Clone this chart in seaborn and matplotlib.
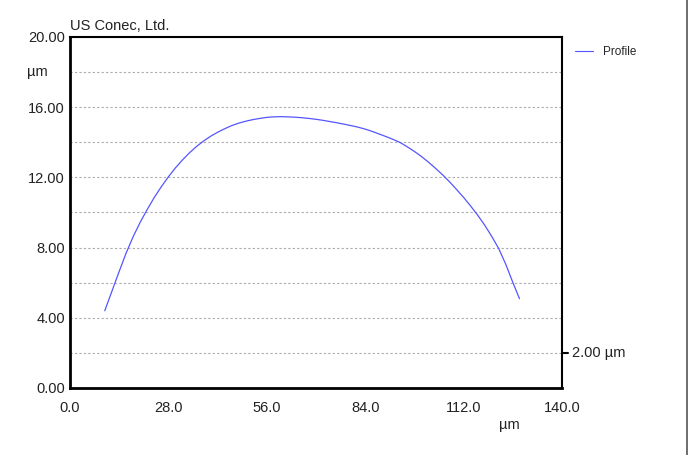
import pandas as pd
import matplotlib.pyplot as plt
import matplotlib.lines as mlines
import matplotlib.transforms as mtransforms
from matplotlib.ticker import MultipleLocator, FixedLocator
import seaborn as sns

# profile (um)
pos_um = [9.9, 12.0, 14.0, 16.0, 18.0, 20.0, 22.0, 24.0, 26.0, 28.0, 30.0, 32.0,
          34.0, 36.0, 38.0, 40.0, 42.0, 44.0, 46.0, 48.0, 50.0, 52.0, 54.0, 56.0,
          58.0, 60.0, 62.0, 64.0, 66.0, 68.0, 70.0, 72.0, 74.0, 76.0, 78.0, 80.0,
          82.0, 84.0, 86.0, 88.0, 90.0, 92.0, 94.0, 96.0, 98.0, 100.0, 102.0, 104.0,
          106.0, 108.0, 110.0, 112.0, 114.0, 116.0, 118.0, 120.0, 122.0, 124.0, 126.0,
          127.9]
height_um = [4.40, 5.55, 6.64, 7.70, 8.63, 9.45, 10.18, 10.86, 11.47, 12.03, 12.54, 12.99,
             13.40, 13.76, 14.07, 14.34, 14.57, 14.77, 14.95, 15.09, 15.20, 15.29, 15.36, 15.42,
             15.45, 15.46, 15.45, 15.43, 15.40, 15.36, 15.31, 15.25, 15.18, 15.11, 15.03, 14.95,
             14.86, 14.75, 14.62, 14.47, 14.32, 14.16, 13.98, 13.74, 13.48, 13.19, 12.87, 12.52,
             12.15, 11.75, 11.31, 10.86, 10.37, 9.85, 9.28, 8.64, 7.94, 7.05, 6.02,
             5.09]
x_ticks = [0.0, 28.0, 56.0, 84.0, 112.0, 140.0]
y_ticks = [0.0, 4.0, 8.0, 12.0, 16.0, 20.0]

df = pd.DataFrame({"x": pos_um, "y": height_um})

sns.set_style("white")
plt.rcParams["font.family"] = ["Liberation Sans", "DejaVu Sans"]

fig = plt.figure(figsize=(6.99, 4.55), dpi=100)
ax = fig.add_axes([0.1001, 0.1473, 0.7039, 0.7714])

sns.lineplot(data=df, x="x", y="y", ax=ax, color="#5555ff", linewidth=0.9,
             label="Profile", sort=False)

ax.set_xlim(0, 140)
ax.set_ylim(0, 20)
ax.xaxis.set_major_locator(FixedLocator(x_ticks))
ax.xaxis.set_minor_locator(MultipleLocator(14))
ax.yaxis.set_major_locator(FixedLocator(y_ticks))
ax.yaxis.set_minor_locator(MultipleLocator(2))
ax.set_xticklabels([f"{v:.1f}" for v in x_ticks])
ax.set_yticklabels([f"{v:.2f}" for v in y_ticks])
ax.tick_params(axis="both", which="major", labelsize=10.5, length=4, width=1.5,
               direction="in", colors="black", labelcolor="#222222")
ax.tick_params(axis="x", which="major", pad=9.5)
ax.tick_params(axis="both", which="minor", length=4, width=1.5, direction="in")
ax.set_xlabel("")
ax.set_ylabel("")

ax.grid(True, which="both", axis="y", linestyle=(0, (2, 2)), color="#aaaaaa", linewidth=0.8)

for side in ["left", "bottom"]:
    ax.spines[side].set_linewidth(2)
    ax.spines[side].set_color("black")
for side in ["right", "top"]:
    ax.spines[side].set_linewidth(1.5)
    ax.spines[side].set_color("black")

# unit labels
ylab_tr = mtransforms.blended_transform_factory(fig.transFigure, ax.transData)
ax.text(37 / 699, 18, "µm", transform=ylab_tr, ha="center", va="center",
        fontsize=10.5, color="#222222")
ax.text(0.894, -0.105, "µm", transform=ax.transAxes, ha="center", va="center",
        fontsize=10.5, color="#222222")
ax.plot([1.0, 1.012], [2, 2], transform=ax.get_yaxis_transform(), color="black",
        linewidth=1.5, clip_on=False)
ax.text(1.02, 2, "2.00 µm", transform=ax.get_yaxis_transform(), ha="left", va="center",
        fontsize=10.5, color="#222222")
ax.text(0.0, 1.012, "US Conec, Ltd.", transform=ax.transAxes, ha="left", va="bottom",
        fontsize=10.5, color="#222222")

leg = ax.legend(loc="upper left", bbox_to_anchor=(1.005, 1.005), frameon=False,
                fontsize=8.5, handlelength=1.5, handletextpad=0.85)
for line in leg.get_lines():
    line.set_linewidth(0.8)

fig.add_artist(mlines.Line2D([687 / 699, 687 / 699], [0, 1], transform=fig.transFigure,
                             color="#555555", linewidth=1.2))

fig.savefig("out.png", dpi=100, facecolor="white")
